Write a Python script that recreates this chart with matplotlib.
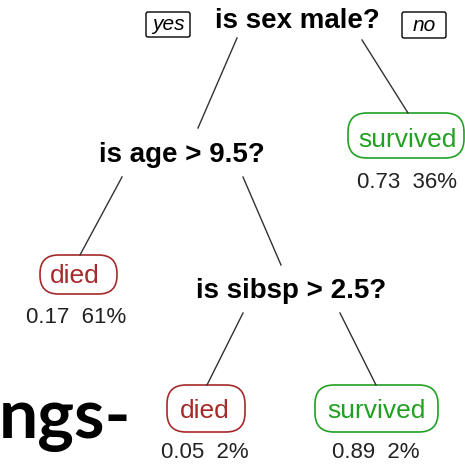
import matplotlib.pyplot as plt
from matplotlib.patches import FancyBboxPatch

# split questions of the tree
questions = ['is sex male?', 'is age > 9.5?', 'is sibsp > 2.5?']
# leaves: class, survival probability, share of passengers
leaf_labels = ['survived', 'died', 'died', 'survived']
leaf_probs = [0.73, 0.17, 0.05, 0.89]
leaf_pcts = [36, 61, 2, 2]
branch_labels = ['yes', 'no']

# layout (pixel space, y down)
question_pos = [(297, 28), (182, 162), (291, 298)]
leaf_boxes = [(348, 113, 116, 45), (40, 255, 77, 39), (167, 385, 78, 47), (315, 385, 123, 47)]
leaf_text_pos = [(407, 147), (75, 283), (205, 418), (376, 418)]
leaf_num_pos = [(407, 188), (76, 323), (205, 458), (376, 458)]
edges = [((237, 38), (198, 128)), ((362, 40), (408, 113)),
         ((122, 177), (80, 255)), ((243, 177), (281, 265)),
         ((243, 313), (207, 385)), ((340, 313), (376, 385))]
branch_boxes = [(146, 12, 44, 25), (402, 12, 44, 26)]

colors = {'died': '#a52a2a', 'survived': '#22a022'}

plt.rcParams['font.family'] = ['Liberation Sans', 'DejaVu Sans']

fig = plt.figure(figsize=(4.65, 4.66), dpi=100)
ax = fig.add_axes([0, 0, 1, 1])
ax.set_xlim(0, 465)
ax.set_ylim(466, 0)
ax.axis('off')

for (x1, y1), (x2, y2) in edges:
    ax.plot([x1, x2], [y1, y2], color='#333333', lw=1)

for q, (x, y) in zip(questions, question_pos):
    ax.text(x, y, q, ha='center', va='baseline', fontsize=20, fontweight='bold', color='black')

for lab, (bx, by, bw, bh) in zip(branch_labels, branch_boxes):
    ax.add_patch(FancyBboxPatch((bx, by), bw, bh, boxstyle='round,pad=0,rounding_size=2',
                                fc='white', ec='black', lw=1))
    ax.text(bx + bw / 2, by + bh - 7, lab, ha='center', va='baseline', fontsize=15,
            style='italic', color='black')

for i, lab in enumerate(leaf_labels):
    bx, by, bw, bh = leaf_boxes[i]
    c = colors[lab]
    r = min(bh / 2 - 1, 19)
    ax.add_patch(FancyBboxPatch((bx, by), bw, bh, boxstyle=f'round,pad=0,rounding_size={r}',
                                fc='white', ec=c, lw=1.2))
    tx, ty = leaf_text_pos[i]
    ax.text(tx, ty, lab, ha='center', va='baseline', fontsize=19, color=c)
    nx, ny = leaf_num_pos[i]
    ax.text(nx, ny, f'{leaf_probs[i]:.2f}  {leaf_pcts[i]}%', ha='center', va='baseline',
            fontsize=16, color='#222222')

# cut-off slide title on the left
ax.text(131, 438, 'ngs-', ha='right', va='baseline', fontsize=50, fontweight='bold',
        family=['Lato', 'DejaVu Sans'], color='black')

fig.savefig('out.png', dpi=100)
